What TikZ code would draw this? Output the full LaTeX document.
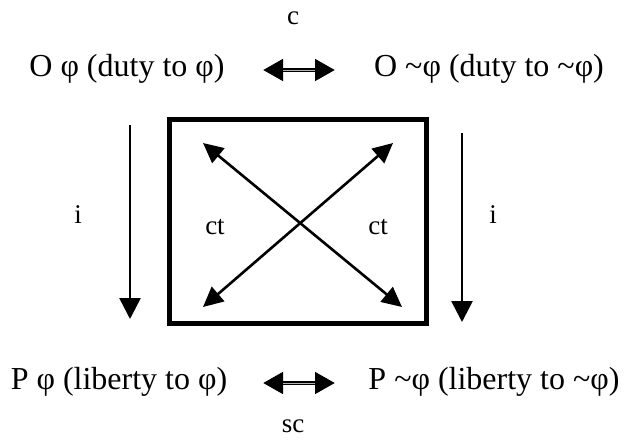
\documentclass[tikz,border=0pt]{standalone}
\usepackage{fontspec}
\setmainfont{Liberation Serif}
\usetikzlibrary{arrows.meta}
\begin{document}
\begin{tikzpicture}[x=1pt,y=-1pt,
  lbl/.style={font=\fontsize{32}{38}\selectfont, inner sep=0pt},
  small/.style={font=\fontsize{27}{32}\selectfont, inner sep=0pt},
  arr/.style={line width=2.6pt, -{Triangle[length=21pt,width=21pt]}},
  darr/.style={line width=2.6pt, {Triangle[length=20pt,width=19pt]}-{Triangle[length=20pt,width=19pt]}},
  harr/.style={line width=4.6pt, {Triangle[length=20pt,width=21pt]}-{Triangle[length=20pt,width=21pt]}},
  hcore/.style={line width=1pt, gray!60}]
\useasboundingbox (0,0) rectangle (628,445);
\node[lbl] (tl) at (127,69) {O φ (duty to φ)};
\node[lbl] (tr) at (489,69) {O \textasciitilde φ (duty to \textasciitilde φ)};
\node[lbl] (bl) at (119,382) {P φ (liberty to φ)};
\node[lbl] (br) at (494,382) {P \textasciitilde φ (liberty to \textasciitilde φ)};
\node[small] (c) at (293,18) {c};
\node[small] (sc) at (293,426) {sc};
\node[small] (il) at (78,215) {i};
\node[small] (ir) at (493,215) {i};
\node[small] (ctl) at (215,227) {ct};
\node[small] (ctr) at (378,227) {ct};
\node[draw, line width=4.5pt, minimum width=257pt, minimum height=204pt, inner sep=0pt] (box) at (298,221.5) {};
\coordinate (h1a) at (263,70); \coordinate (h1b) at (335,70);
\coordinate (h2a) at (263,383); \coordinate (h2b) at (335,383);
\draw[harr] (h1a) -- (h1b);
\draw[harr] (h2a) -- (h2b);
\draw[hcore, shorten <=20pt, shorten >=20pt] (h1a) -- (h1b);
\draw[hcore, shorten <=20pt, shorten >=20pt] (h2a) -- (h2b);
\coordinate (la) at (130,125); \coordinate (lb) at (130,319);
\coordinate (ra) at (462,133); \coordinate (rb) at (462,322);
\draw[arr] (la) -- (lb);
\draw[arr] (ra) -- (rb);
\coordinate (d1a) at (203,143); \coordinate (d1b) at (402,307);
\coordinate (d2a) at (393,143); \coordinate (d2b) at (203,307);
\draw[darr] (d1a) -- (d1b);
\draw[darr] (d2a) -- (d2b);
\end{tikzpicture}
\end{document}
